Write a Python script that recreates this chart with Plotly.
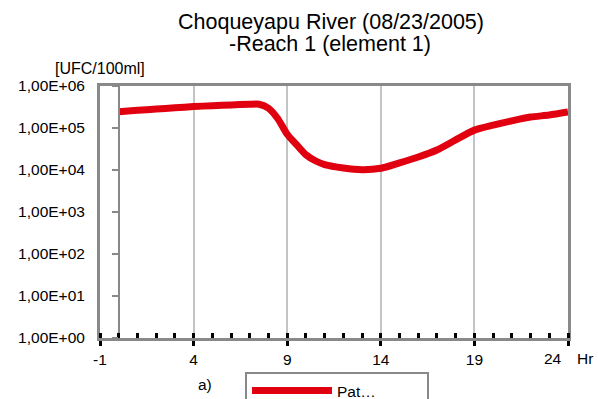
import plotly.graph_objects as go

hours = [0, 1, 2, 3, 4, 5, 6, 7, 7.5, 8, 8.5, 9, 9.5, 10, 10.5, 11, 12, 13, 14,
         15, 16, 17, 18, 19, 20, 21, 22, 23, 24]
counts = [2.45e5, 2.63e5, 2.82e5, 3.02e5, 3.24e5, 3.39e5, 3.55e5, 3.67e5, 3.67e5,
          2.95e5, 1.66e5, 7.1e4, 4.0e4, 2.3e4, 1.66e4, 1.35e4, 1.12e4, 1.02e4,
          1.1e4, 1.48e4, 2.04e4, 3.0e4, 5.2e4, 8.9e4, 1.17e5, 1.48e5, 1.82e5,
          2.04e5, 2.4e5]
series_name = "Pat…"

y_tickvals = [1, 10, 100, 1e3, 1e4, 1e5, 1e6]
y_ticktext = ["1,00E+00", "1,00E+01", "1,00E+02", "1,00E+03", "1,00E+04",
              "1,00E+05", "1,00E+06"]
x_tickvals = [-1, 4, 9, 14, 19, 24]
x_ticktext = ["-1", "4", "9", "14", "19", ""]
last_x_label = "24"

title_lines = ["Choqueyapu River (08/23/2005)", "-Reach 1 (element 1)"]
y_unit = "[UFC/100ml]"
x_unit = "Hr"
panel_label = "a)"

RED = "#e1000f"
GRAY = "#898989"
FONT = "Liberation Sans, Arial, sans-serif"

fig = go.Figure()
fig.add_trace(go.Scatter(x=hours, y=counts, mode="lines", name=series_name,
                         line=dict(color=RED, width=7, shape="spline", smoothing=0.7),
                         xaxis="x", yaxis="y"))
# invisible copy carrying the inner value axis drawn at hour 0
fig.add_trace(go.Scatter(x=hours, y=counts, mode="lines", showlegend=False,
                         hoverinfo="skip", line=dict(width=0), opacity=0,
                         xaxis="x2", yaxis="y2"))

fig.update_layout(
    width=598, height=399,
    margin=dict(l=100, r=30, t=86, b=61, autoexpand=False),
    paper_bgcolor="white", plot_bgcolor="white",
    font=dict(family=FONT, size=15.5, color="black"),
    xaxis=dict(range=[-1, 24], tickvals=x_tickvals, ticktext=x_ticktext,
               showgrid=True, gridcolor="#c4c4c4", gridwidth=1.5, zeroline=False,
               showline=True, linecolor=GRAY, linewidth=3, mirror=True,
               ticks="outside", ticklen=5, tickwidth=2.5, tickcolor="black",
               minor=dict(dtick=1, tick0=-1, ticks="inside", ticklen=5,
                          tickwidth=2.5, tickcolor="black", showgrid=False),
               ticklabelstandoff=0, automargin=False, fixedrange=True),
    yaxis=dict(type="log", range=[0, 6], tickvals=y_tickvals, ticktext=y_ticktext,
               showgrid=False, zeroline=False, showline=True, linecolor=GRAY,
               linewidth=3, mirror=True, ticks="", ticklabelstandoff=9,
               automargin=False, fixedrange=True),
    xaxis2=dict(overlaying="x", matches="x", range=[-1, 24], visible=True,
                showticklabels=False, showgrid=False, zeroline=False,
                showline=False, ticks="inside", tickvals=x_tickvals, ticklen=5,
                tickwidth=2.5, tickcolor="black", side="bottom", anchor="y"),
    yaxis2=dict(type="log", range=[0, 6], overlaying="y", anchor="free",
                position=0.04, tickvals=y_tickvals, showticklabels=False,
                showgrid=False, zeroline=False, showline=True,
                linecolor=GRAY, linewidth=2, ticks="outside", ticklen=6,
                tickwidth=2, tickcolor=GRAY),
    legend=dict(orientation="h", xref="container", yref="container",
                x=245/598, xanchor="left", y=1-372/399, yanchor="top",
                bordercolor=GRAY, borderwidth=2, bgcolor="white",
                entrywidth=85, entrywidthmode="pixels",
                font=dict(size=15.5), itemwidth=80),
    annotations=[
        dict(text=title_lines[0], xref="paper", yref="paper", x=(331-100)/468,
             y=(338-22)/252, xanchor="center", yanchor="middle", showarrow=False,
             font=dict(size=21.5)),
        dict(text=title_lines[1], xref="paper", yref="paper", x=(330-100)/468,
             y=(338-44)/252, xanchor="center", yanchor="middle", showarrow=False,
             font=dict(size=21.5)),
        dict(text=y_unit, xref="paper", yref="paper", x=(53-100)/468,
             y=(338-68)/252, xanchor="left", yanchor="middle", showarrow=False,
             font=dict(size=16)),
        dict(text=last_x_label, xref="x", yref="paper", x=x_tickvals[-1], xshift=-4,
             y=(338-358)/252, xanchor="right", yanchor="middle", showarrow=False,
             font=dict(size=15.5)),
        dict(text=x_unit, xref="paper", yref="paper", x=(575-100)/468,
             y=(338-358)/252, xanchor="left", yanchor="middle", showarrow=False,
             font=dict(size=15.5)),
        dict(text=panel_label, xref="paper", yref="paper", x=(205-100)/468,
             y=(338-384)/252, xanchor="center", yanchor="middle", showarrow=False,
             font=dict(size=15.5)),
    ],
    showlegend=True,
)

fig.write_html("out.html")
